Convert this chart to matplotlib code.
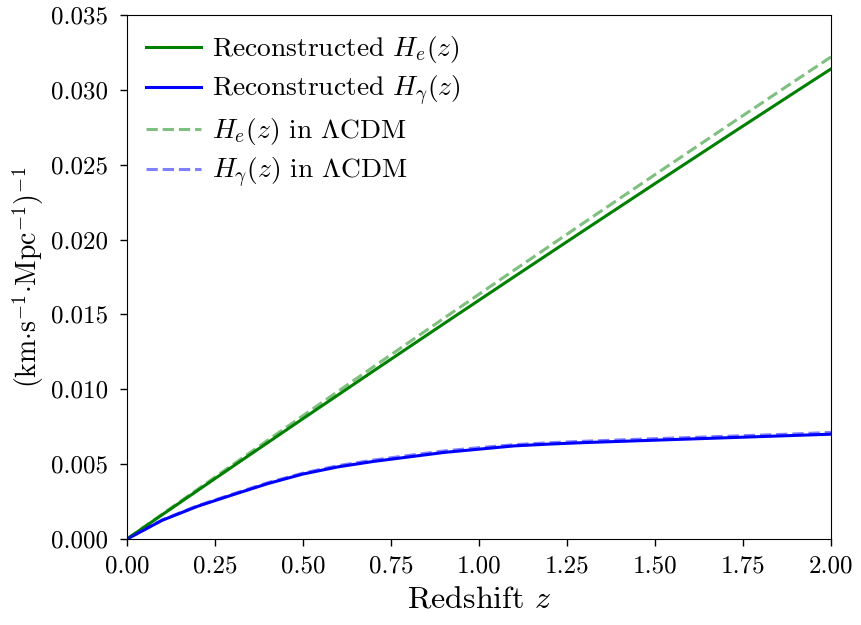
"""
    Reconstructed H_e(z) and H_gamma(z) vs LCDM.
"""

import matplotlib
matplotlib.use('Agg')
import matplotlib.pyplot as plt

plt.rcParams['font.family'] = 'serif'
plt.rcParams['font.serif'] = ['cmr10']
plt.rcParams['mathtext.fontset'] = 'cm'
plt.rcParams['axes.formatter.use_mathtext'] = True

# ============================================================
# Data
# ============================================================

z = [0.0, 0.1, 0.2, 0.3, 0.4, 0.5, 0.6, 0.7, 0.8, 0.9, 1.0,
     1.1, 1.2, 1.3, 1.4, 1.5, 1.6, 1.7, 1.8, 1.9, 2.0]

he_rec = [0.0, 0.00162, 0.00323, 0.00484, 0.00644, 0.00804, 0.00963,
          0.01122, 0.01280, 0.01438, 0.01595, 0.01752, 0.01908, 0.02064,
          0.02219, 0.02374, 0.02528, 0.02682, 0.02835, 0.02988, 0.03140]

hg_rec = [0.0, 0.00125, 0.00218, 0.00295, 0.00370, 0.00434, 0.00482,
          0.00518, 0.00548, 0.00578, 0.00600, 0.00622, 0.00634, 0.00644,
          0.00652, 0.00660, 0.00668, 0.00676, 0.00684, 0.00692, 0.00700]

he_lcdm = [0.0, 0.00166, 0.00331, 0.00496, 0.00660, 0.00824, 0.00987,
           0.01150, 0.01312, 0.01474, 0.01635, 0.01796, 0.01956, 0.02116,
           0.02275, 0.02434, 0.02592, 0.02750, 0.02907, 0.03064, 0.03220]

hg_lcdm = [0.0, 0.00127, 0.00222, 0.00300, 0.00376, 0.00440, 0.00490,
           0.00527, 0.00558, 0.00588, 0.00610, 0.00630, 0.00643, 0.00653,
           0.00662, 0.00670, 0.00678, 0.00686, 0.00694, 0.00702, 0.00712]

x_ticks = [0.0, 0.25, 0.5, 0.75, 1.0, 1.25, 1.5, 1.75, 2.0]
y_ticks = [0.0, 0.005, 0.010, 0.015, 0.020, 0.025, 0.030, 0.035]


def main() -> None:
    fig = plt.figure(figsize=(8.61, 6.25), dpi=100)
    ax = fig.add_axes([0.1475, 0.1376, 0.8177, 0.8384])

    ax.plot(z, he_rec, color='green', lw=2.2, label=r'Reconstructed $H_e(z)$')
    ax.plot(z, hg_rec, color='blue', lw=2.2, label=r'Reconstructed $H_\gamma(z)$')
    ax.plot(z, he_lcdm, color='green', lw=2.2, ls='--', alpha=0.5,
            label=r'$H_e(z)$ in $\Lambda$CDM')
    ax.plot(z, hg_lcdm, color='blue', lw=2.2, ls='--', alpha=0.5,
            label=r'$H_\gamma(z)$ in $\Lambda$CDM')

    ax.set_xlim(0, 2)
    ax.set_ylim(0, 0.035)
    ax.set_xticks(x_ticks)
    ax.set_xticklabels([f'{v:.2f}' for v in x_ticks])
    ax.set_yticks(y_ticks)
    ax.set_yticklabels([f'{v:.3f}' for v in y_ticks])
    ax.tick_params(labelsize=18, length=5, width=1)
    ax.tick_params(axis='y', pad=8.5)
    ax.tick_params(axis='x', pad=7)

    ax.set_xlabel(r'Redshift $z$', fontsize=23, labelpad=6)
    ax.set_ylabel(r'$(\mathrm{km{\cdot}s^{-1}{\cdot}Mpc^{-1}})^{-1}$', fontsize=20)

    ax.legend(loc='upper left', frameon=False, fontsize=19.8, handlelength=2.0,
              handletextpad=0.4, labelspacing=0.3, borderaxespad=0.3)

    fig.savefig('out.png', dpi=100)
    plt.close(fig)


if __name__ == '__main__':
    main()
